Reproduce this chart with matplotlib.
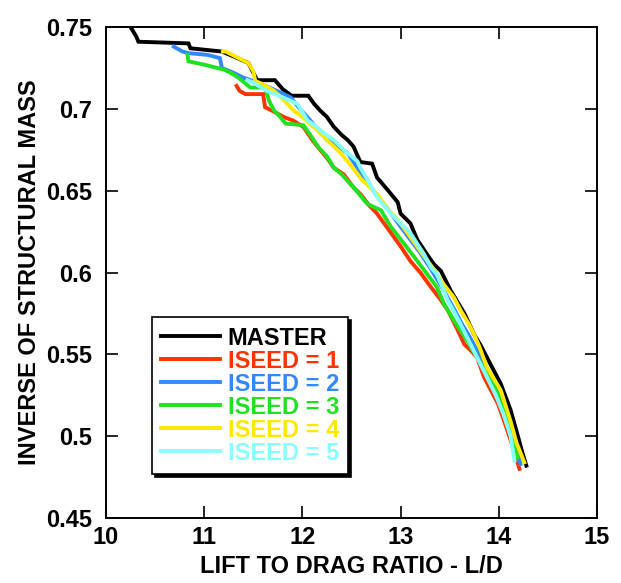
import matplotlib
matplotlib.use("Agg")
import matplotlib.pyplot as plt

plt.rcParams['font.family'] = ['Liberation Sans', 'DejaVu Sans']
plt.rcParams['font.weight'] = 'bold'

# ---- data ----
master_x = [10.25, 10.29, 10.31, 10.33, 10.84, 10.86, 11.18, 11.30, 11.45, 11.50, 11.54, 11.72,
            11.80, 11.89, 12.06, 12.12, 12.18, 12.25, 12.32, 12.40, 12.46, 12.52, 12.59, 12.71,
            12.76, 12.86, 12.97, 13.00, 13.10, 13.17, 13.27, 13.34, 13.41, 13.51, 13.58, 13.65,
            13.75, 13.82, 13.88, 13.95, 14.02, 14.07, 14.12, 14.19, 14.24, 14.28]
master_y = [0.750, 0.746, 0.744, 0.741, 0.740, 0.737, 0.735, 0.732, 0.728, 0.722, 0.7175, 0.7175,
            0.712, 0.708, 0.708, 0.703, 0.699, 0.695, 0.689, 0.684, 0.681, 0.677, 0.6675, 0.6665,
            0.658, 0.651, 0.643, 0.636, 0.630, 0.620, 0.611, 0.605, 0.601, 0.589, 0.582, 0.575,
            0.562, 0.555, 0.548, 0.540, 0.532, 0.524, 0.516, 0.501, 0.490, 0.482]

iseed1_x = [11.33, 11.36, 11.42, 11.60, 11.62, 11.72, 11.81, 11.90, 12.01, 12.10, 12.18, 12.25,
            12.32, 12.42, 12.52, 12.59, 12.68, 12.76, 12.88, 13.00, 13.10, 13.20, 13.31, 13.40,
            13.48, 13.58, 13.65, 13.72, 13.78, 13.85, 13.92, 13.99, 14.05, 14.09, 14.15, 14.21]
iseed1_y = [0.714, 0.711, 0.709, 0.709, 0.701, 0.698, 0.695, 0.693, 0.689, 0.681, 0.675, 0.670,
            0.664, 0.660, 0.652, 0.648, 0.641, 0.636, 0.626, 0.616, 0.607, 0.600, 0.591, 0.584,
            0.577, 0.565, 0.556, 0.552, 0.548, 0.536, 0.528, 0.520, 0.510, 0.503, 0.492, 0.480]

iseed2_x = [10.69, 10.78, 10.84, 11.03, 11.16, 11.18, 11.30, 11.40, 11.55, 11.74, 11.88, 11.96,
            12.05, 12.15, 12.25, 12.36, 12.46, 12.56, 12.66, 12.76, 12.88, 13.00, 13.10, 13.20,
            13.31, 13.44, 13.55, 13.63, 13.71, 13.80, 13.90, 14.00, 14.08, 14.15, 14.22]
iseed2_y = [0.738, 0.735, 0.734, 0.733, 0.731, 0.725, 0.722, 0.719, 0.716, 0.711, 0.707, 0.701,
            0.695, 0.688, 0.681, 0.677, 0.673, 0.664, 0.655, 0.647, 0.638, 0.628, 0.620, 0.612,
            0.602, 0.589, 0.577, 0.568, 0.560, 0.550, 0.539, 0.527, 0.513, 0.500, 0.483]

iseed3_x = [10.83, 10.84, 11.00, 11.13, 11.20, 11.27, 11.35, 11.47, 11.62, 11.66, 11.71, 11.76,
            11.83, 12.01, 12.08, 12.17, 12.25, 12.32, 12.40, 12.46, 12.55, 12.63, 12.66, 12.80,
            12.90, 13.03, 13.17, 13.27, 13.37, 13.44, 13.55, 13.68, 13.80, 13.90, 13.99, 14.08,
            14.15, 14.19]
iseed3_y = [0.733, 0.729, 0.727, 0.725, 0.724, 0.722, 0.719, 0.713, 0.713, 0.705, 0.699, 0.696,
            0.691, 0.690, 0.684, 0.676, 0.671, 0.664, 0.660, 0.656, 0.650, 0.644, 0.642, 0.638,
            0.628, 0.618, 0.607, 0.599, 0.591, 0.581, 0.570, 0.558, 0.546, 0.536, 0.526, 0.510,
            0.497, 0.487]

iseed4_x = [11.19, 11.22, 11.35, 11.45, 11.50, 11.52, 11.60, 11.71, 11.80, 11.91, 12.00, 12.15,
            12.25, 12.39, 12.50, 12.60, 12.76, 12.88, 13.00, 13.12, 13.25, 13.35, 13.41, 13.54,
            13.62, 13.70, 13.75, 13.80, 13.88, 13.95, 14.02, 14.12, 14.18, 14.26]
iseed4_y = [0.735, 0.735, 0.731, 0.728, 0.723, 0.717, 0.715, 0.711, 0.706, 0.699, 0.695, 0.687,
            0.681, 0.673, 0.665, 0.657, 0.648, 0.638, 0.630, 0.620, 0.609, 0.601, 0.595, 0.585,
            0.576, 0.568, 0.562, 0.555, 0.542, 0.535, 0.528, 0.509, 0.496, 0.484]

iseed5_x = [11.44, 11.50, 11.64, 11.80, 11.95, 12.05, 12.12, 12.22, 12.32, 12.42, 12.56, 12.59,
            12.68, 12.76, 12.90, 13.00, 13.10, 13.24, 13.31, 13.37, 13.48, 13.58, 13.68, 13.78,
            13.88, 13.97, 14.05, 14.12, 14.16]
iseed5_y = [0.7175, 0.716, 0.711, 0.707, 0.703, 0.693, 0.690, 0.685, 0.681, 0.675, 0.668, 0.664,
            0.655, 0.646, 0.636, 0.630, 0.624, 0.611, 0.603, 0.599, 0.583, 0.572, 0.560, 0.548,
            0.536, 0.525, 0.513, 0.500, 0.485]

labels = ['MASTER', 'ISEED = 1', 'ISEED = 2', 'ISEED = 3', 'ISEED = 4', 'ISEED = 5']
colors = ['#000000', '#FF3300', '#3388FF', '#22E022', '#FFE800', '#88FFFF']
xticks = [10, 11, 12, 13, 14, 15]
yticks = [0.45, 0.5, 0.55, 0.6, 0.65, 0.7, 0.75]
ytick_labels = ['0.45', '0.5', '0.55', '0.6', '0.65', '0.7', '0.75']

series = [(master_x, master_y), (iseed1_x, iseed1_y), (iseed2_x, iseed2_y),
          (iseed3_x, iseed3_y), (iseed4_x, iseed4_y), (iseed5_x, iseed5_y)]

fig = plt.figure(figsize=(6.21, 5.83), dpi=100)
ax = fig.add_axes([106/621, 1-518/583, 491/621, 491/583])

for (xs, ys), lab, col in zip(series, labels, colors):
    ax.plot(xs, ys, color=col, lw=2.8, label=lab, solid_joinstyle='miter')

ax.set_xlim(10, 15)
ax.set_ylim(0.45, 0.75)
ax.set_xticks(xticks)
ax.set_xticklabels([str(t) for t in xticks])
ax.set_yticks(yticks)
ax.set_yticklabels(ytick_labels)

ax.tick_params(direction='in', length=8.5, width=1.2, top=True, right=True,
               labelsize=17, pad=6)
ax.tick_params(axis='y', pad=10)
for s in ax.spines.values():
    s.set_linewidth(1.4)

ax.set_xlabel('LIFT TO DRAG RATIO - L/D', fontsize=17, fontweight='bold', labelpad=4)
ax.set_ylabel('INVERSE OF STRUCTURAL MASS', fontsize=17, fontweight='bold', labelpad=4)

leg = ax.legend(loc='upper left', bbox_to_anchor=(0.0937, 0.409), borderaxespad=0,
                prop={'weight': 'bold', 'size': 17}, labelcolor='linecolor',
                fancybox=False, framealpha=1, edgecolor='black',
                shadow={'color': 'black', 'alpha': 1},
                handlelength=2.5, handletextpad=0.3, labelspacing=0.0,
                borderpad=0.4)
leg.get_frame().set_linewidth(1.2)

fig.savefig('out.png', dpi=100)
